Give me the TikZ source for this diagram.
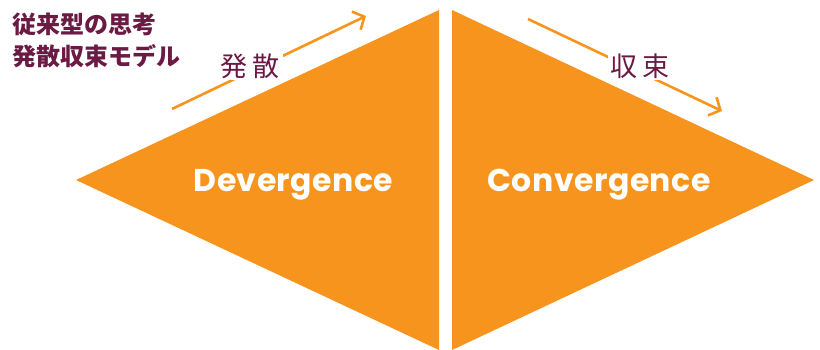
\documentclass[tikz,border=0pt]{standalone}
\usepackage{fontspec}
\setmainfont{Poppins}
\newfontfamily\jpfont{Noto Sans CJK JP}
\newfontfamily\wordfont[LetterSpace=1.5]{Poppins}
\usetikzlibrary{arrows.meta}
\definecolor{orng}{HTML}{F7941E}
\definecolor{plum}{HTML}{6B1A44}
\tikzset{
  tri/.style={fill=orng, draw=none},
  flowline/.style={draw=orng, line width=2.6pt, line cap=butt},
  flowarrow/.style={flowline, -{Straight Barb[length=9pt,width=20pt,line width=2.6pt]}},
  flowlabel/.style={font=\jpfont\fontsize{27}{27}\selectfont, text=plum, fill=white, inner xsep=3pt, inner ysep=2pt},
  titletext/.style={font=\jpfont\bfseries\fontsize{24}{24}\selectfont, text=plum, inner sep=0pt, anchor=base west},
  bigword/.style={font=\wordfont\bfseries\fontsize{31.5}{31.5}\selectfont, text=white, inner sep=0pt, anchor=base}
}
\begin{document}
\begin{tikzpicture}[x=1pt,y=-1pt]
\useasboundingbox (0,0) rectangle (820,350);
% triangles
\coordinate (LA) at (76,180);
\coordinate (LT) at (439,10);
\coordinate (LB) at (439,350);
\coordinate (RT) at (452,10);
\coordinate (RA) at (814,180);
\coordinate (RB) at (452,350);
\fill[tri] (LA) -- (LT) -- (LB) -- cycle;
\fill[tri] (RT) -- (RA) -- (RB) -- cycle;
% arrows
\coordinate (d1) at (172,109);
\coordinate (d2) at (366,16);
\coordinate (c1) at (528,19);
\coordinate (c2) at (722,111);
\draw[flowarrow] (d1) -- (d2);
\draw[flowarrow] (c1) -- (c2);
\node[flowlabel] (hassan) at (250,66) {発\hspace{5pt}散};
\node[flowlabel] (shusoku) at (640,66) {収\hspace{5pt}束};
% title
\node[titletext] (t1) at (12,33.5) {従来型の思考};
\node[titletext] (t2) at (12,65.5) {発散収束モデル};
% words
\node[bigword] (dev) at (293.5,191.5) {Devergence};
\node[bigword] (con) at (599,191.5) {Convergence};
\end{tikzpicture}
\end{document}
